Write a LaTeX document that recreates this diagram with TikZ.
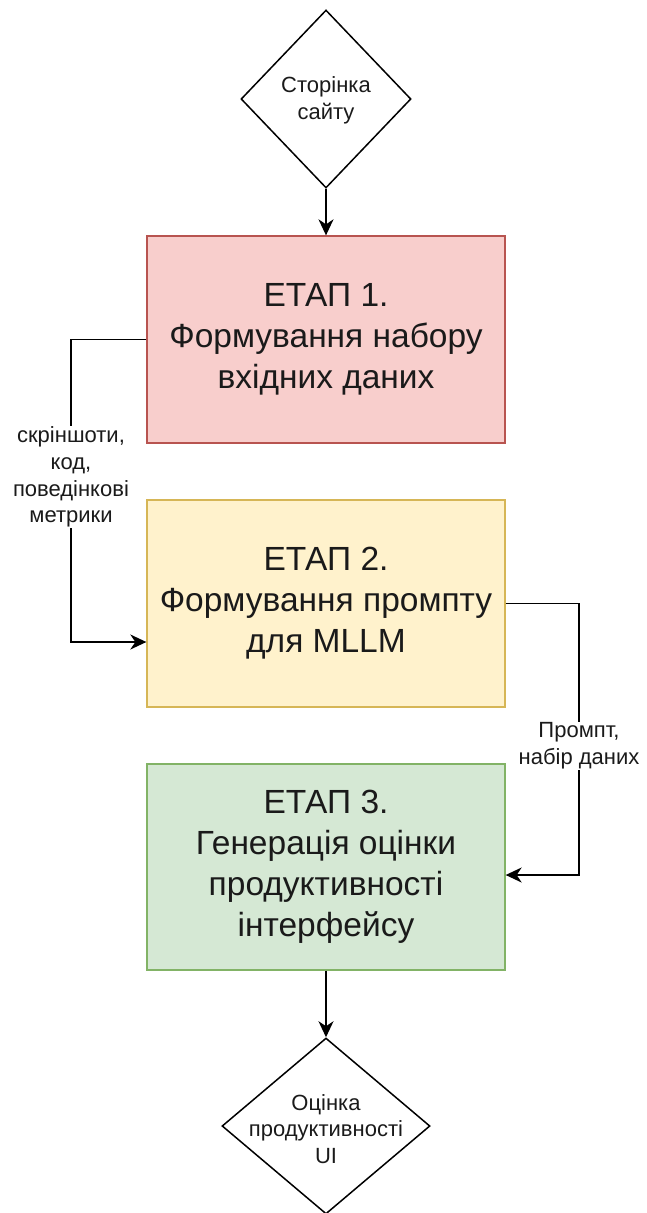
\documentclass[tikz,border=0pt]{standalone}
\usepackage{fontspec}
\setmainfont{Liberation Sans}
\usetikzlibrary{shapes.geometric,arrows.meta}
\definecolor{redF}{HTML}{F8CECC}\definecolor{redD}{HTML}{B85450}
\definecolor{yelF}{HTML}{FFF2CC}\definecolor{yelD}{HTML}{D6B656}
\definecolor{grnF}{HTML}{D5E8D4}\definecolor{grnD}{HTML}{82B366}
\definecolor{txt}{HTML}{1A1A1A}
\begin{document}
\begin{tikzpicture}[x=1pt,y=-1pt,
  stagebox/.style={draw, line width=1.3pt, minimum width=358pt, minimum height=207pt,
    align=center, inner sep=0pt, text=txt, font=\fontsize{33.5}{41}\selectfont},
  dia/.style={draw, diamond, line width=1.5pt, inner sep=0pt},
  dtext/.style={align=center, inner sep=0pt, text=txt, font=\fontsize{22}{26.7}\selectfont},
  lbl/.style={fill=white, align=center, inner sep=1pt, text=txt, font=\fontsize{22}{26.7}\selectfont},
  arr/.style={line width=1.6pt, -{Stealth[length=16pt,width=15pt,inset=5pt]}}]
\useasboundingbox (0,0) rectangle (646,1213);

\node[dia, minimum width=170pt, minimum height=178pt] (d1) at (326,99) {};
\node[dtext] (d1t) at (326,100) {Сторінка\\сайту};

\node[stagebox, fill=redF, draw=redD] (s1) at (326,339.5) {ЕТАП 1.\\Формування набору\\вхідних даних};
\node[stagebox, fill=yelF, draw=yelD] (s2) at (326,603.5) {ЕТАП 2.\\Формування промпту\\для MLLM};
\node[stagebox, fill=grnF, draw=grnD, minimum height=206pt] (s3) at (326,867) {ЕТАП 3.\\Генерація оцінки\\продуктивності\\інтерфейсу};

\node[dia, minimum width=208pt, minimum height=176pt] (d2) at (326,1126) {};
\node[dtext] (d2t) at (326,1129) {Оцінка\\продуктивності\\UI};

\draw[arr] (d1.south) -- (s1.north);
\draw[arr] (s3.south) -- (d2.north);

\coordinate (lc) at (71,0);
\coordinate (s2in) at ([yshift=-38.5pt]s2.west);
\draw[arr] (s1.west) -- (s1.west -| lc) -- (lc |- s2in) -- (s2in);
\node[lbl] (lb1) at (71,477) {скріншоти,\\код,\\поведінкові\\метрики};

\coordinate (rc) at (579,0);
\coordinate (s3in) at ([yshift=-8pt]s3.east);
\draw[arr] (s2.east) -- (s2.east -| rc) -- (rc |- s3in) -- (s3in);
\node[lbl] (lb2) at (579,746) {Промпт,\\набір даних};
\end{tikzpicture}
\end{document}
